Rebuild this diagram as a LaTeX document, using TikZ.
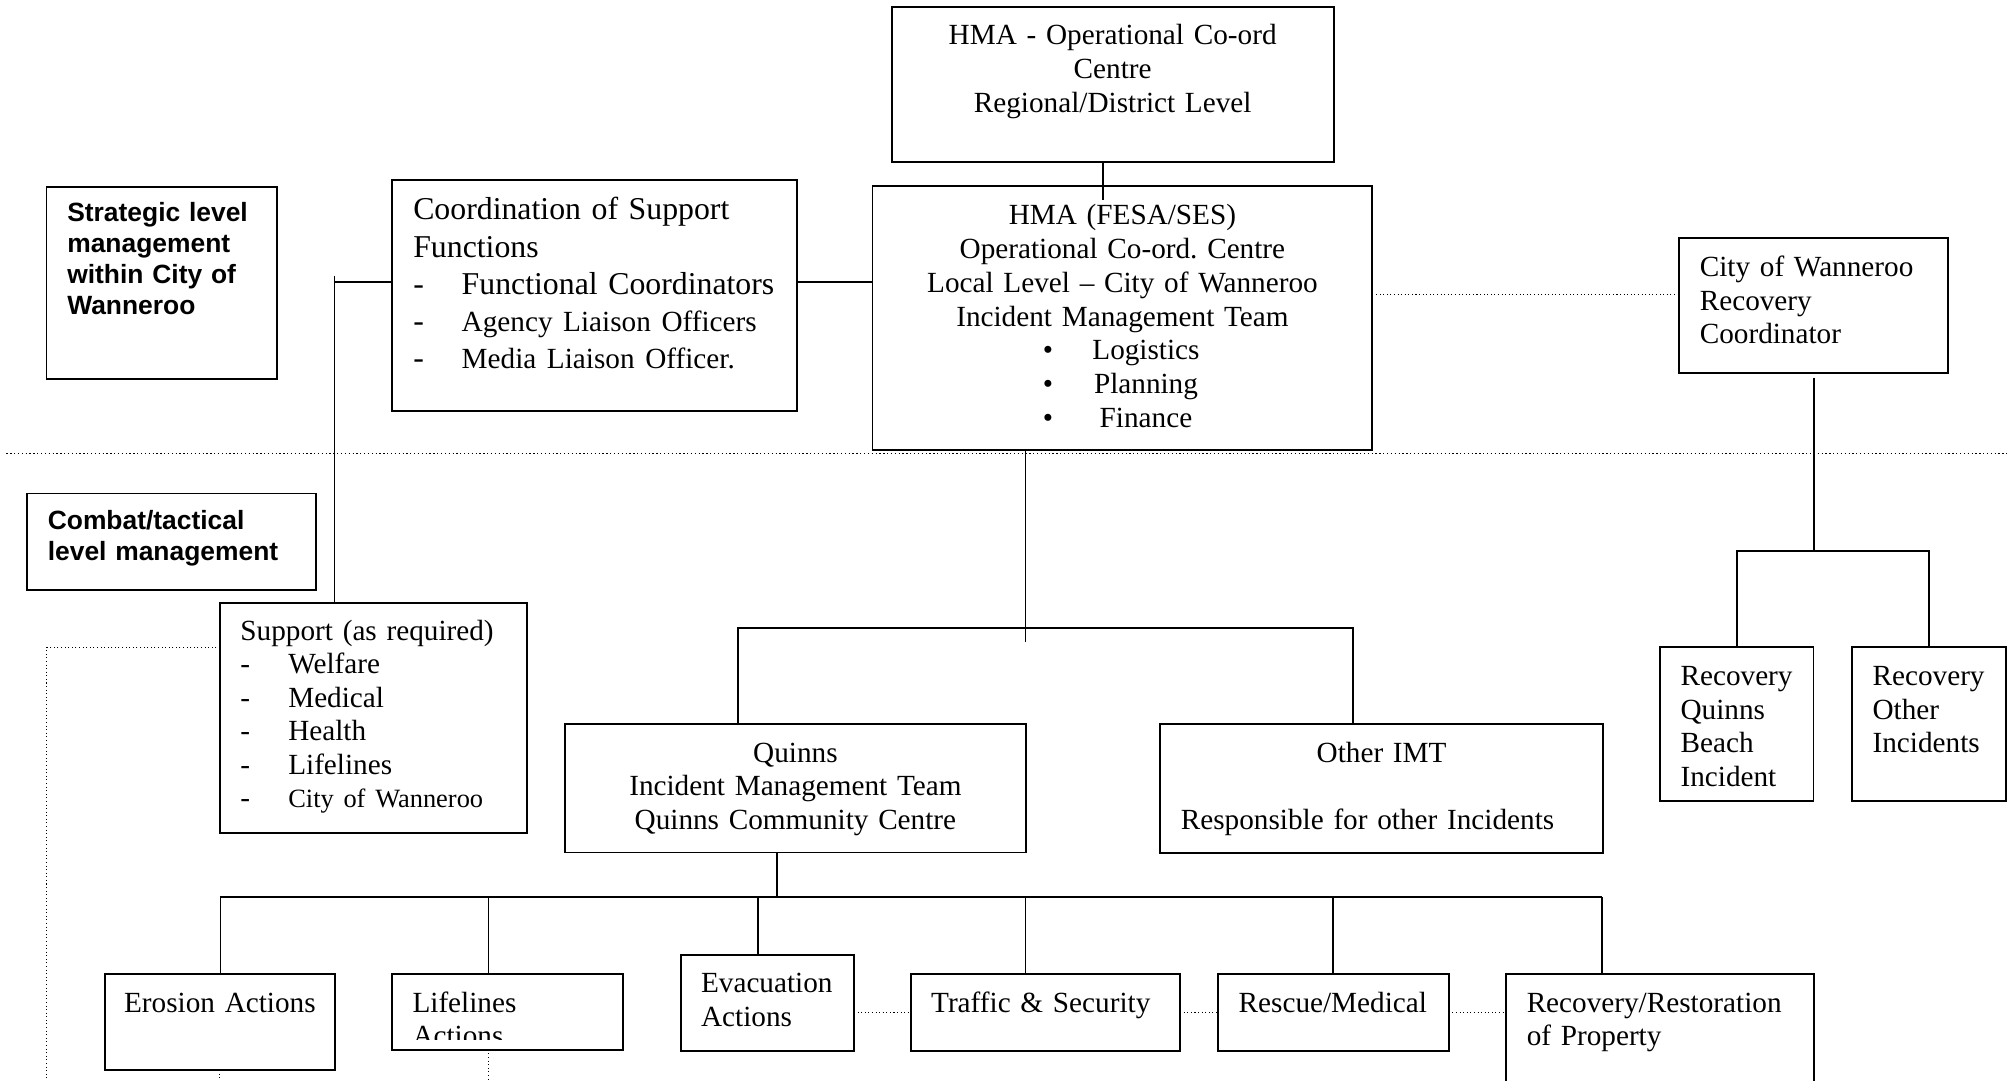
\documentclass[tikz,border=0pt]{standalone}
\usepackage{fontspec}
\setmainfont{Liberation Serif}
\setsansfont{Liberation Sans}
\hyphenpenalty=10000
\exhyphenpenalty=10000
\frenchspacing

\begin{document}
\begin{tikzpicture}[x=1pt,y=-1pt,
  orgbox/.style={draw, line width=1.5pt, anchor=north west, inner xsep=16pt, inner ysep=0pt,
    outer sep=0pt, text height=29.6pt, align=left, font=\fontsize{22.8}{26.3}\selectfont},
  levelbox/.style={orgbox, inner xsep=16.2pt, font=\sffamily\bfseries\fontsize{20.6}{24}\selectfont},
  link/.style={line width=1.4pt},
  dotlink/.style={dotted, line width=0.8pt}]
\def\dash#1{\makebox[#1][l]{-}}
\def\hmaitem#1{\leavevmode\rlap{\hspace*{117pt}\textbullet}\makebox[\linewidth]{\hspace*{36.8pt}#1}}
\useasboundingbox (0,0) rectangle (1568,843);

    % strategic level
    \node[levelbox, text width=147.5pt, text height=27.4pt, text depth=122.7pt] (strat) at (36.3,145.6)
        {Strategic level\\management\\within City of\\Wanneroo};
    \node[orgbox, align=center, text width=313pt, text height=29.4pt, text depth=91pt] (hmaop) at (695.5,5.7)
        {HMA - Operational Co-ord\\Centre\\Regional/District Level};
    \node[orgbox, align=center, text width=358pt, text height=30.4pt, text depth=175.5pt] (hma) at (680.6,145.1)
        {HMA (FESA/SES)\\Operational Co-ord. Centre\\Local Level -- City of Wanneroo\\Incident Management Team\\
         \hmaitem{Logistics}\\\hmaitem{Planning}\\\hmaitem{Finance}};
    \node[orgbox, inner xsep=16.4pt, text width=282.6pt, text height=30.9pt, text depth=149pt,
        font=\fontsize{24.8}{28.9}\selectfont] (coord) at (306,140.7)
        {Coordination of Support\\Functions\\\mbox{\dash{37.8pt}Functional Coordinators}\\
         \mbox{\dash{37.8pt}{\fontsize{22.8}{28.9}\selectfont Agency Liaison Officers}}\\
         \mbox{\dash{37.8pt}{\fontsize{22.8}{28.9}\selectfont Media Liaison Officer.}}};
    \node[orgbox, text width=177.7pt, text height=29.9pt, text depth=75.1pt] (reccoord) at (1310,185.7)
        {City of Wanneroo\\Recovery\\Coordinator};

    % combat/tactical level
    \node[levelbox, inner xsep=15.9pt, text width=193.6pt, text height=28pt, text depth=47.5pt] (combat) at (21.4,385)
        {Combat/tactical\\level management};
    \node[orgbox, text width=207.8pt, text height=28.9pt, text depth=150.7pt,
        font=\fontsize{22.8}{26.2}\selectfont] (support) at (171.6,470.4)
        {Support (as required)\\\dash{37.3pt}Welfare\\\dash{37.3pt}Medical\\\dash{37.3pt}Health\\\dash{37.3pt}Lifelines\\
         \dash{37.3pt}{\fontsize{20.6}{26.2}\selectfont City of Wanneroo}};
    \node[orgbox, align=center, text width=327.4pt, text depth=70.4pt] (quinns) at (440.8,565)
        {Quinns\\Incident Management Team\\Quinns Community Centre};
    \node[orgbox, text width=313.2pt, text depth=71.1pt] (othimt) at (905.2,565)
        {\makebox[\linewidth]{Other IMT}\\[26.3pt]Responsible for other Incidents};
    \node[orgbox, text width=87.7pt, text depth=90.3pt] (recquinns) at (1295,505)
        {Recovery\\Quinns\\Beach\\Incident};
    \node[orgbox, text width=87.7pt, text depth=90.3pt] (recother) at (1444.8,505)
        {Recovery\\Other\\Incidents};

    % actions
    \node[orgbox, align=center, inner xsep=8pt, text width=163.9pt, text height=29.8pt, text depth=45.2pt] (erosion) at (81.6,759.8)
        {Erosion Actions};
    \node[orgbox, text width=148.2pt, text height=30pt, text depth=29.5pt] (lifeact) at (305.8,759.5) {};
    \begin{scope}
        \clip (lifeact.north west) rectangle ([yshift=8pt]lifeact.south east);
        \node[orgbox, draw=none, text width=148.2pt, text height=30pt] (lifetext) at (lifeact.north west)
            {Lifelines\\Actions};
    \end{scope}
    \node[orgbox, text width=103.3pt, text height=29.8pt, text depth=45.1pt] (evac) at (530.9,744.7)
        {Evacuation\\Actions};
    \node[orgbox, text width=178.2pt, text height=29.8pt, text depth=30pt] (traffic) at (710.4,759.8)
        {Traffic \& Security};
    \node[orgbox, text width=147.9pt, text height=29.8pt, text depth=30pt] (rescue) at (950.3,759.8)
        {Rescue/Medical};
    \node[orgbox, text width=208pt, text height=30pt, text depth=100pt] (restore) at (1175,759.5)
        {Recovery/Restoration\\of Property};

    \coordinate (supjoin) at (261,215);
    \coordinate (leftfoot) at (36.6,850);
    \coordinate (imtbus) at (800,490);
    \coordinate (recbus) at (reccoord.south |- 0,430);
    \coordinate (actbus) at (606,700);

    % level divider
    \draw[dotlink, line width=1pt] (5,354) -- (1568,354);

    \draw[link] (hmaop.south -| 860.6,0) -- ++(0,30);
    \draw[link] (coord.east |- 0,220) -- (hma.west |- 0,220);
    \draw[link] (coord.west |- 0,220) -- (supjoin |- 0,220);
    \draw[link] (supjoin) -- (support.north -| supjoin);
    \draw[dotlink] (hma.east |- 0,230) -- (reccoord.west |- 0,230);
    \draw[dotlink] (support.west |- 0,505) -| (leftfoot);

    \draw[link] (hma.south -| imtbus) -- ([yshift=-11pt]imtbus);
    \draw[link] (quinns.north -| 576,0) |- (imtbus) -| (othimt.north -| 1055.5,0);

    \draw[link] ([yshift=-4pt]reccoord.south) -- (recbus);
    \draw[link] (recquinns.north) |- (recbus) -| (recother.north);

    \draw[link] (quinns.south -| actbus) -- (actbus);
    \draw[link] (erosion.north |- actbus) -- (actbus -| 1250,0);
    \foreach \n/\x in {erosion/172,lifeact/381,evac/591,traffic/800,rescue/1040,restore/1250}
        \draw[link] (\n.north -| \x,0) -- (\x,700);

    \draw[dotlink] (evac.east |- traffic.west) -- (traffic.west);
    \draw[dotlink] (traffic.east) -- (rescue.west);
    \draw[dotlink] (rescue.east) -- (restore.west |- rescue.east);
    \draw[dotlink] (erosion.south) -- ++(0,20);
    \draw[dotlink] (lifeact.south -| 381,0) -- ++(0,30);
\end{tikzpicture}
\end{document}
